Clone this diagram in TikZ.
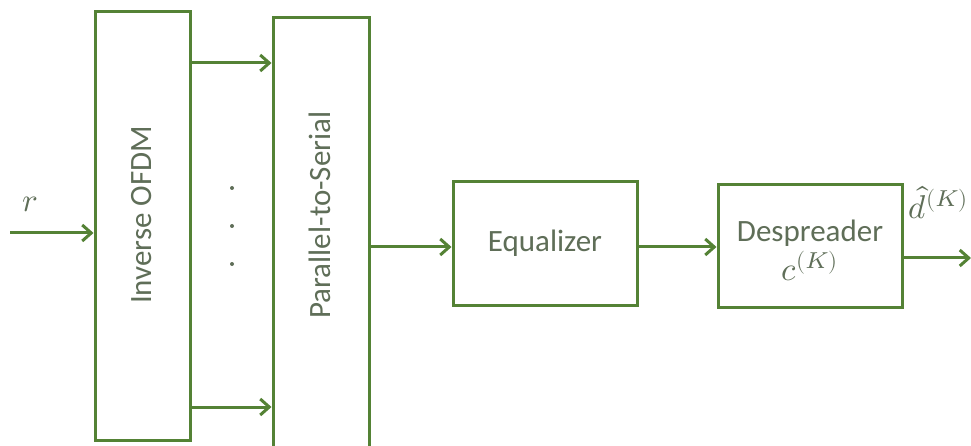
\documentclass[tikz,border=0pt]{standalone}
\usepackage{unicode-math}
\setmainfont{Carlito}
\setmathfont{Latin Modern Math}
\usetikzlibrary{arrows.meta}
\definecolor{linegreen}{RGB}{84,130,53}
\definecolor{txtgray}{RGB}{95,110,88}
\begin{document}
\begin{tikzpicture}[x=1pt,y=-1pt,
  blk/.style={draw=linegreen,line width=3pt,fill=white,inner sep=0pt},
  lbl/.style={text=txtgray,font=\fontsize{31}{34}\selectfont},
  mlbl/.style={text=txtgray,inner sep=1pt,scale=3.3},
  flow/.style={draw=linegreen,line width=3pt,-{Straight Barb[length=9pt,width=16pt,line width=3pt]}},
  dotn/.style={circle,fill=txtgray,inner sep=0pt,minimum size=4pt}]
\useasboundingbox (0,0) rectangle (971,446);
% blocks
\node[blk,minimum width=95pt,minimum height=428pt] (ifft) at (142.5,226) {};
\node[blk,minimum width=96pt,minimum height=432pt] (ps) at (321,234) {};
\node[blk,minimum width=184pt,minimum height=123pt] (eq) at (545,243.5) {};
\node[blk,minimum width=184pt,minimum height=122pt] (desp) at (810,246) {};
% block texts
\node[lbl,rotate=90] (t1) at (142,215) {Inverse OFDM};
\node[lbl,rotate=90] (t2) at (320,215) {Parallel-to-Serial};
\node[lbl] (t3) at (545,243) {Equalizer};
\node[lbl] (t4) at (810,233) {Despreader};
\node[mlbl] (t5) at (810,266) {$c^{(K)}$};
% dots between the two stages
\node[dotn] (d1) at (232,188) {};
\node[dotn] (d2) at (232,226) {};
\node[dotn] (d3) at (232,264) {};
% free ends
\coordinate (in) at (10,233);
\coordinate (out) at (971,258);
\node[mlbl] (rl) at (30,204) {$r$};
\node[mlbl] (dl) at (939,203) {$\hat{d}^{(K)}$};
% connectors
\draw[flow] (in) -- (in -| ifft.west);
\draw[flow] (ifft.east |- 0,63) -- (ps.west |- 0,63);
\draw[flow] (ifft.east |- 0,407) -- (ps.west |- 0,407);
\draw[flow] (ps.east |- 0,247) -- (eq.west |- 0,247);
\draw[flow] (eq.east |- 0,247) -- (desp.west |- 0,247);
\draw[flow] (desp.east |- out) -- (out);
\end{tikzpicture}
\end{document}
